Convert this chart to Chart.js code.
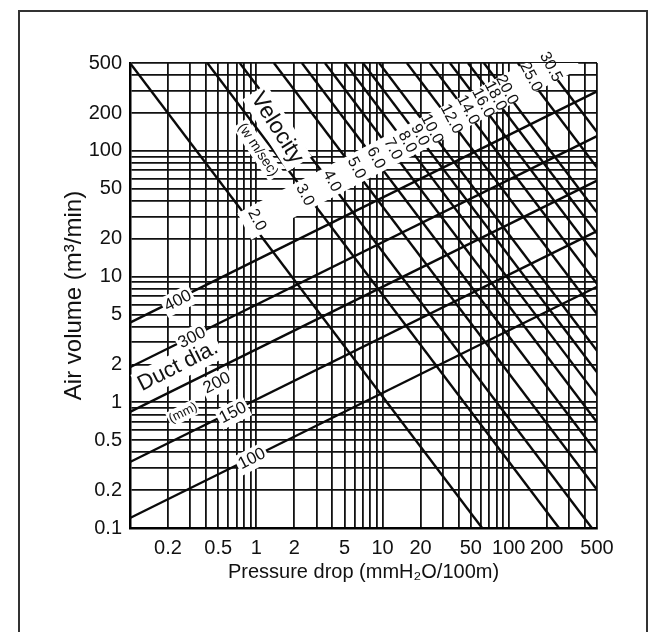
<!DOCTYPE html>
<html>
<head>
<meta charset="utf-8">
<script src="https://cdn.jsdelivr.net/npm/chart.js@4"></script>
<style>
  html, body { margin: 0; padding: 0; background: #fff; }
  #wrap { position: relative; width: 669px; height: 632px; overflow: hidden; }
  #frame { position: absolute; left: 18px; top: 10px; width: 630px; height: 640px; border: 2px solid #333; box-sizing: border-box; }
  #chart { position: absolute; left: 0; top: 0; }
</style>
</head>
<body>
<div id="wrap">
  <div id="frame"></div>
  <canvas id="chart" width="669" height="632"></canvas>
</div>
<script>
// grid / tick values (log-log nomograph)
const xGridValues = [0.1, 0.2, 0.3, 0.4, 0.5, 0.6, 0.7, 0.8, 0.9, 1, 2, 3, 4, 5, 6, 7, 8, 9,
                     10, 20, 30, 40, 50, 60, 70, 80, 90, 100, 200, 300, 400, 500];
const yGridValues = [0.1, 0.2, 0.3, 0.4, 0.5, 0.6, 0.7, 0.8, 0.9, 1, 2, 3, 4, 5, 6, 7, 8, 9,
                     10, 20, 30, 40, 50, 60, 70, 80, 90, 100, 200, 300, 400, 500];
const xTickLabels = [0.2, 0.5, 1, 2, 5, 10, 20, 50, 100, 200, 500];
const yTickLabels = [0.1, 0.2, 0.5, 1, 2, 5, 10, 20, 50, 100, 200, 500];

// velocity lines (m/sec): x where the line meets y = 500 and y = 0.1
const velocityLabels  = ['2.0', '3.0', '4.0', '5.0', '6.0', '7.0', '8.0', '9.0', '10.0', '12.0', '14.0', '16.0', '18.0', '20.0', '25.0', '30.5'];
const velocityTopX    = [0.1, 0.41, 0.74, 1.38, 2.30, 3.50, 5.04, 7.0, 9.4, 15.6, 23.7, 34.2, 47.5, 63.5, 118, 193];
const velocityBottomX = [61.5, 250, 455, 849, 1415, 2150, 3100, 4300, 5780, 9590, 14600, 21000, 29200, 39000, 72600, 119000];
// where the velocity numbers sit (on the label strip)
const velocityLabelX  = [1.01, 2.43, 3.97, 6.21, 8.87, 12.1, 15.7, 19.8, 24.6, 35.1, 47.5, 62.4, 78.3, 96.6, 149.6, 215];
const velocityLabelY  = [28.2, 44.6, 57.6, 73.1, 87.9, 103.5, 117.8, 133.7, 149.3, 179.4, 211.5, 240.4, 273.5, 305, 387, 465];

// duct diameter lines (mm): y at x = 0.1 and at x = 500
const ductLabels = ['100', '150', '200', '300', '400'];
const ductLeftY  = [0.12, 0.335, 0.84, 1.9, 4.3];
const ductRightY = [8.3, 23, 58, 131, 297];
const ductLabelX = [0.925, 0.654, 0.489, 0.310, 0.240];
const ductLabelY = [0.354, 0.822, 1.42, 3.25, 6.40];

const FONT = '"Liberation Sans", Arial, sans-serif';

const datasets = [];
velocityLabels.forEach((lab, i) => {
    datasets.push({
        label: 'v ' + lab,
        data: [{ x: velocityTopX[i], y: 500 }, { x: velocityBottomX[i], y: 0.1 }],
    });
});
ductLabels.forEach((lab, i) => {
    datasets.push({
        label: 'd ' + lab,
        data: [{ x: 0.1, y: ductLeftY[i] }, { x: 500, y: ductRightY[i] }],
    });
});
datasets.forEach(ds => {
    ds.showLine = true;
    ds.pointRadius = 0;
    ds.borderColor = '#0a0a0a';
    ds.borderWidth = 2.4;
});

// --- labels drawn on top of the lines, with white backing ---
const labelPlugin = {
    id: 'nomoLabels',
    afterDatasetsDraw(chart) {
        const { ctx, chartArea, scales: { x, y } } = chart;
        const px = v => x.getPixelForValue(v);
        const py = v => y.getPixelForValue(v);

        const put = (text, vx, vy, angle, size, pad) => {
            ctx.save();
            ctx.translate(px(vx), py(vy));
            ctx.rotate(angle * Math.PI / 180);
            ctx.font = size + 'px ' + FONT;
            ctx.textAlign = 'center';
            ctx.textBaseline = 'middle';
            if (pad !== null) {
                const w = ctx.measureText(text).width;
                ctx.fillStyle = '#fff';
                ctx.fillRect(-w / 2 - pad, -size * 0.62, w + pad * 2, size * 1.24);
            }
            ctx.fillStyle = '#111';
            ctx.fillText(text, 0, 0);
            ctx.restore();
        };

        // white strip that carries the velocity numbers
        const n = velocityLabels.length;
        const x0 = px(velocityLabelX[0]), y0 = py(velocityLabelY[0]);
        const x1 = px(velocityLabelX[n - 1]), y1 = py(velocityLabelY[n - 1]);
        const ang = Math.atan2(y1 - y0, x1 - x0);
        const len = Math.hypot(x1 - x0, y1 - y0);
        ctx.save();
        ctx.beginPath();
        ctx.rect(chartArea.left, chartArea.top, chartArea.right - chartArea.left, chartArea.bottom - chartArea.top);
        ctx.clip();
        ctx.translate(x0, y0);
        ctx.rotate(ang);
        ctx.fillStyle = '#fff';
        ctx.fillRect(-14, -15, len + 40, 30);
        ctx.restore();

        velocityLabels.forEach((lab, i) => put(lab, velocityLabelX[i], velocityLabelY[i], 62, 16, null));
        ductLabels.forEach((lab, i) => put(lab, ductLabelX[i], ductLabelY[i], -27, 17, 2));

        put('Velocity', 1.46, 152, 58, 23, 3);
        put('(w m/sec)', 1.03, 102, 56, 14, 2);
        put('Duct dia.', 0.240, 1.94, -27, 22, 3);
        put('(mm)', 0.263, 0.822, -27, 13, 1);
    }
};

const fmt = v => String(v);

new Chart(document.getElementById('chart'), {
    type: 'scatter',
    data: { datasets },
    options: {
        responsive: false,
        animation: false,
        events: [],
        layout: { padding: { left: 40, right: 72, top: 63, bottom: 40 } },
        plugins: { legend: { display: false }, tooltip: { enabled: false } },
        scales: {
            x: {
                type: 'logarithmic',
                min: 0.1,
                max: 500,
                afterBuildTicks: s => { s.ticks = xGridValues.map(v => ({ value: v })); },
                afterFit: s => { s.height = 64; },
                grid: { color: '#111', lineWidth: 1.8, drawTicks: false },
                border: { display: true, color: '#000', width: 2.5 },
                ticks: {
                    autoSkip: false, maxRotation: 0, padding: 8, color: '#111',
                    font: { family: FONT, size: 20 },
                    callback: v => xTickLabels.includes(v) ? fmt(v) : ''
                },
                title: {
                    display: true, text: 'Pressure drop (mmH₂O/100m)', color: '#111',
                    font: { family: FONT, size: 20 }, padding: { top: 0, bottom: 8 }
                }
            },
            y: {
                type: 'logarithmic',
                min: 0.1,
                max: 500,
                afterBuildTicks: s => { s.ticks = yGridValues.map(v => ({ value: v })); },
                afterFit: s => { s.width = 90; },
                grid: { color: '#111', lineWidth: 1.8, drawTicks: false },
                border: { display: true, color: '#000', width: 2.5 },
                ticks: {
                    autoSkip: false, padding: 8, color: '#111',
                    font: { family: FONT, size: 20 },
                    callback: v => yTickLabels.includes(v) ? fmt(v) : ''
                },
                title: {
                    display: true, text: 'Air volume (m³/min)', color: '#111',
                    font: { family: FONT, size: 24 }, padding: { top: 20, bottom: 0 }
                }
            }
        }
    },
    plugins: [labelPlugin]
});
</script>
</body>
</html>
